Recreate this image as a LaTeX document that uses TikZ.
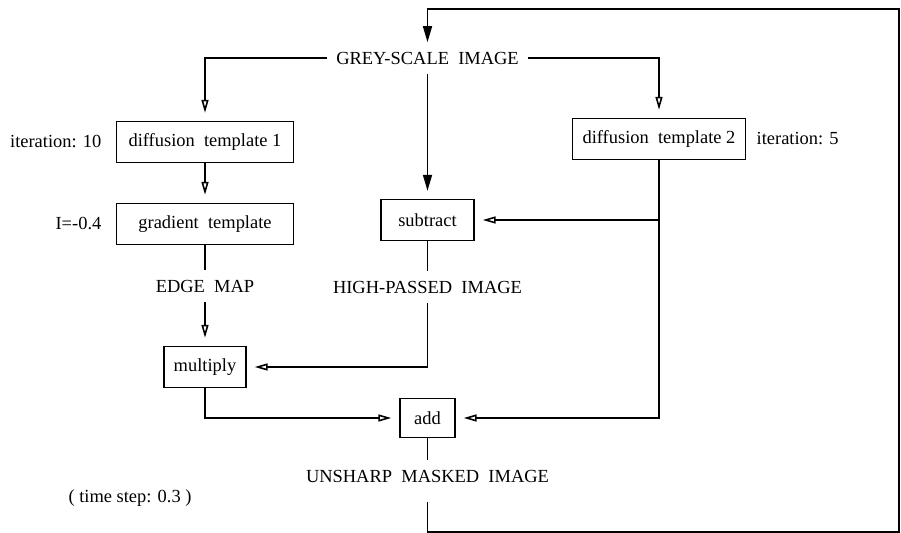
\documentclass[tikz,border=0pt]{standalone}
\usepackage{fontspec}
\setmainfont{Liberation Serif}
\usetikzlibrary{arrows.meta}

\begin{document}
\begin{tikzpicture}[
  line width=0.9pt,
  font=\fontsize{10.5}{12.6}\selectfont,
  box/.style={draw, minimum height=0.82cm, inner sep=2pt},
  lbl/.style={inner sep=5pt},
  flow/.style={-{Triangle[open,length=2.6mm,width=1.4mm]}, shorten >=4.5pt},
  feed/.style={-{Triangle[length=3.2mm,width=1.8mm]}}
]
  \useasboundingbox (0,0) rectangle (18.02,10.66);

  % Input image
  \node[lbl] (grey) at (8.55,9.50) {GREY-SCALE\ \ IMAGE};

  % Template boxes
  \node[box, minimum width=3.54cm] (diffA) at (4.10,7.82) {diffusion\ \ template 1};
  \node[box, minimum width=3.54cm] (gradient) at (4.10,6.18) {gradient\ \ template};
  \node[box, minimum width=3.46cm] (diffB) at (13.18,7.88) {diffusion\ \ template 2};

  % Operation boxes
  \node[box, minimum width=1.86cm] (subtract) at (8.55,6.26) {subtract};
  \node[box, minimum width=1.64cm] (multiply) at (4.10,3.32) {multiply};
  \node[box, minimum width=1.10cm, minimum height=0.78cm] (add) at (8.55,2.30) {add};

  % Intermediate images
  \node[lbl] (edge) at (4.10,4.94) {EDGE\ \ MAP};
  \node[lbl] (highpass) at (8.55,4.92) {HIGH-PASSED\ \ IMAGE};
  \node[lbl] (unsharp) at (8.55,1.14) {UNSHARP\ \ MASKED\ \ IMAGE};

  % Parameters
  \node[anchor=east] (iterA) at (2.16,7.82) {iteration: 10};
  \node[anchor=east] (lambda) at (2.16,6.18) {I=-0.4};
  \node[anchor=west] (iterB) at (15.00,7.88) {iteration: 5};
  \node (timestep) at (2.60,0.70) {( time step: 0.3 )};

  % Branches from the input
  \draw[flow] (grey.west) -| (diffA.north);
  \draw[flow] (grey.east) -| (diffB.north);
  \draw[feed, shorten >=4.5pt] (grey.south) -- (subtract.north);

  % Edge path
  \draw[flow] (diffA) -- (gradient);
  \draw (gradient) -- (edge);
  \draw[flow] (edge) -- (multiply);

  % High-pass path
  \draw (subtract) -- (highpass);
  \draw[flow] (highpass.south) |- (multiply.east);
  \draw[flow] (multiply.south) |- (add.west);

  % Smoothed image
  \coordinate (tap) at (diffB.south |- subtract.east);
  \draw[flow] (diffB.south) |- (add.east);
  \draw[flow] (tap) -- (subtract.east);

  % Output and feedback
  \draw (add) -- (unsharp);
  \coordinate (loopSE) at (17.98,0.02);
  \coordinate (loopNE) at (17.98,10.48);
  \draw[feed, shorten <=6pt] (unsharp.south) |- (loopSE) -- (loopNE) -| (grey.north);
\end{tikzpicture}
\end{document}
